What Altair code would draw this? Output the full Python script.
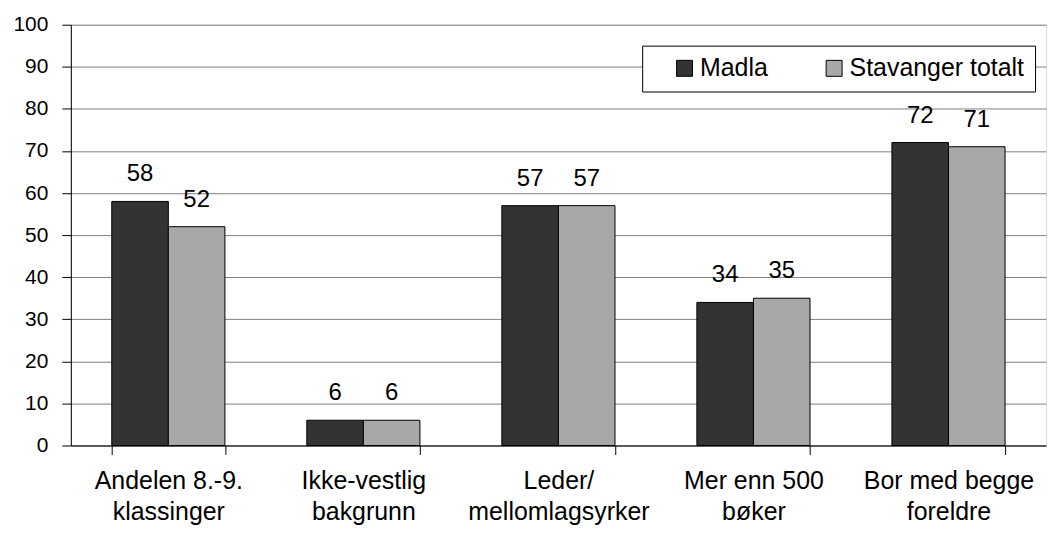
import altair as alt
import pandas as pd

categories = ["Andelen 8.-9.|klassinger", "Ikke-vestlig|bakgrunn", "Leder/|mellomlagsyrker",
              "Mer enn 500|bøker", "Bor med begge|foreldre"]
madla = [58, 6, 57, 34, 72]
stavanger = [52, 6, 57, 35, 71]
series = ["Madla", "Stavanger totalt"]

rows = []
for c, m, s in zip(categories, madla, stavanger):
    rows.append({"cat": c, "serie": series[0], "val": m})
    rows.append({"cat": c, "serie": series[1], "val": s})
df = pd.DataFrame(rows)

FONT = "Liberation Sans"

x = alt.X("cat:N", sort=categories, title=None,
          scale=alt.Scale(paddingInner=0.42, paddingOuter=0.21),
          axis=alt.Axis(labelAngle=0, labelExpr="split(datum.label, '|')", labelFontSize=25,
                        labelColor="black", labelFont=FONT, labelPadding=14, labelLineHeight=31,
                        tickBand="extent", tickColor="black", tickSize=9, domainColor="black",
                        labelLimit=300, grid=False))
y = alt.Y("val:Q", title=None, scale=alt.Scale(domain=[0, 100], nice=False),
          axis=alt.Axis(values=list(range(0, 101, 10)), labelFontSize=21, labelColor="black",
                        labelFont=FONT, tickColor="black", tickSize=9, domainColor="black",
                        labelPadding=14, gridColor="#808080", gridWidth=1))

base = alt.Chart(df).encode(x=x, xOffset=alt.XOffset("serie:N", sort=series, scale=alt.Scale(paddingInner=0)))

bars = base.mark_bar(stroke="black", strokeWidth=1).encode(
    y=y,
    color=alt.Color("serie:N", sort=series,
                    scale=alt.Scale(domain=series, range=["#333333", "#a8a8a8"]),
                    legend=alt.Legend(title=None, orient="none", legendX=573, legendY=21,
                                      direction="horizontal", strokeColor="black", fillColor="white",
                                      padding=10, symbolType="square", symbolSize=256,
                                      symbolStrokeColor="black", symbolStrokeWidth=1,
                                      labelFontSize=25, labelFont=FONT, labelColor="black",
                                      labelLimit=300,
                                      columnPadding=33, labelOffset=3, symbolOffset=20, offset=0)),
)

labels = base.mark_text(dy=-20, fontSize=24, font=FONT, color="black", baseline="alphabetic").encode(
    y="val:Q", text="val:Q")

chart = alt.layer(bars, labels).properties(
    width=978, height=422,
    autosize=alt.AutoSizeParams(type="none"),
    padding={"left": 63, "top": 16, "right": 2, "bottom": 88},
).configure_view(stroke="#808080", strokeWidth=1).configure(background="white")

chart.save("out.html", embed_options={"renderer": "svg", "actions": False})
